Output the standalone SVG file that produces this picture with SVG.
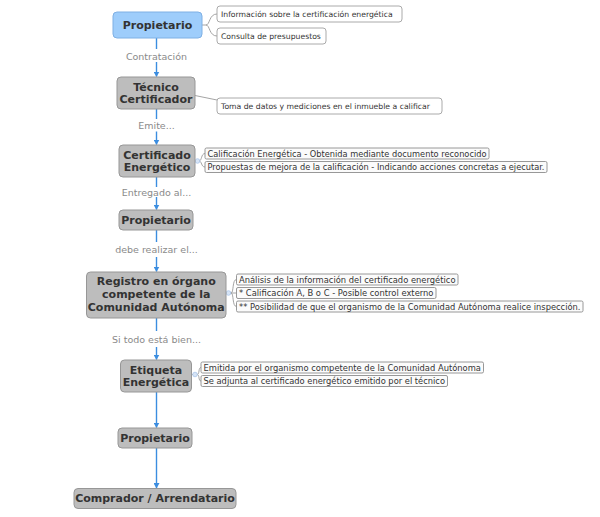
<svg xmlns="http://www.w3.org/2000/svg" width="600" height="517" viewBox="0 0 600 517">
<style>
.node rect{fill:#bdbdbd;stroke:#979797;stroke-width:1}
.node text{font-family:"DejaVu Sans",sans-serif;font-weight:bold;font-size:11px;fill:#333;text-anchor:middle;dominant-baseline:central}
#n-prop1 rect{fill:#9ecdfb;stroke:#7fb0e4}
.lbl{font-family:"DejaVu Sans",sans-serif;font-size:9.5px;fill:#8a8a8a;text-anchor:middle;dominant-baseline:central}
.flow{stroke:#3b8de0;stroke-width:1.4;fill:none}
.br{stroke:#9a9a9a;stroke-width:0.9;fill:none}
.dot{fill:#d6e4f6;stroke:#a9c5ea;stroke-width:0.8}
.co rect{fill:#fff;stroke:#a0a0a0;stroke-width:0.9}
.co text{font-family:"DejaVu Sans",sans-serif;font-size:7.7px;fill:#333;dominant-baseline:central}
.ci rect{fill:#fbfbfb;stroke:#8c8c8c;stroke-width:0.9}
.ci text{font-family:"DejaVu Sans",sans-serif;font-size:8.3px;fill:#333;dominant-baseline:central}
</style>
<defs>
<marker id="ah" markerWidth="6" markerHeight="6" refX="5" refY="3" orient="auto" markerUnits="userSpaceOnUse">
<path d="M0,0 L5.5,3 L0,6 Z" fill="#3b8de0"/>
</marker>
</defs>

<g id="connectors">
<path class="flow" d="M156.5,38 V49"/>
<path class="flow" d="M156.5,62 V76.5" marker-end="url(#ah)"/>
<path class="flow" d="M156.5,109 V119"/>
<path class="flow" d="M156.5,131.5 V144.5" marker-end="url(#ah)"/>
<path class="flow" d="M156.5,177 V187"/>
<path class="flow" d="M156.5,197 V209.5" marker-end="url(#ah)"/>
<path class="flow" d="M156.5,230 V242"/>
<path class="flow" d="M156.5,257 V271.5" marker-end="url(#ah)"/>
<path class="flow" d="M156.5,318 V331"/>
<path class="flow" d="M156.5,347 V359.5" marker-end="url(#ah)"/>
<path class="flow" d="M156.5,392 V427.5" marker-end="url(#ah)"/>
<path class="flow" d="M156.5,448 V488" marker-end="url(#ah)"/>
<text class="lbl" x="156.5" y="56">Contratación</text>
<text class="lbl" x="156.5" y="125.5">Emite...</text>
<text class="lbl" x="156.5" y="192.5">Entregado al...</text>
<text class="lbl" x="156.5" y="249.5">debe realizar el...</text>
<text class="lbl" x="156.5" y="339.5">Si todo está bien...</text>

<path class="br" d="M202,25 H206 C210,25 209,14 217,14 M206,25 C210,25 209,36 217,36"/>
<path class="br" d="M195,95.5 L217,100"/>
<path class="br" d="M195,161 H199 C202,161 201,153.5 205,153.5 M199,161 C202,161 201,167 205,167"/>
<circle class="dot" cx="197.5" cy="161" r="2.3"/>
<path class="br" d="M226,293 H231 C234,293 232,279.5 236.5,279.5 M231,293 H236.5 M231,293 C234,293 232,306.5 236.5,306.5"/>
<circle class="dot" cx="228.5" cy="293" r="2.3"/>
<path class="br" d="M191.5,374.5 H197 C200,374.5 198,367.5 201,367.5 M197,374.5 C200,374.5 198,381 201,381"/>
<circle class="dot" cx="195" cy="374.5" r="2.3"/>
</g>

<g id="n-prop1" class="node"><rect x="113" y="12" width="89" height="26" rx="4"/><text x="157.5" y="25">Propietario</text></g>
<g id="n-tecnico" class="node"><rect x="117" y="77" width="78" height="32" rx="4"/><text x="156" y="87">Técnico</text><text x="156" y="99.5">Certificador</text></g>
<g id="n-cert" class="node"><rect x="119" y="145" width="76" height="32" rx="4"/><text x="157" y="155">Certificado</text><text x="157" y="167.5">Energético</text></g>
<g id="n-prop2" class="node"><rect x="119" y="210" width="74" height="20" rx="4"/><text x="156" y="220.5">Propietario</text></g>
<g id="n-registro" class="node"><rect x="86.5" y="272" width="139.5" height="46" rx="4"/><text x="156.25" y="281.5">Registro en órgano</text><text x="156.25" y="294.5">competente de la</text><text x="156.25" y="307.5">Comunidad Autónoma</text></g>
<g id="n-etiqueta" class="node"><rect x="120.5" y="360" width="71" height="32" rx="4"/><text x="156" y="370">Etiqueta</text><text x="156" y="382.5">Energética</text></g>
<g id="n-prop3" class="node"><rect x="118" y="428" width="74" height="20" rx="4"/><text x="155" y="438">Propietario</text></g>
<g id="n-comprador" class="node"><rect x="74" y="488.5" width="162" height="20" rx="4"/><text x="155" y="498.5">Comprador / Arrendatario</text></g>

<g id="c-info" class="co"><rect x="217" y="6" width="185" height="16" rx="3"/><text x="221" y="14">Información sobre la certificación energética</text></g>
<g id="c-consulta" class="co"><rect x="217" y="28" width="109" height="16" rx="3"/><text x="221" y="36">Consulta de presupuestos</text></g>
<g id="c-toma" class="co"><rect x="217" y="98" width="225" height="16" rx="3"/><text x="221" y="106">Toma de datos y mediciones en el inmueble a calificar</text></g>

<g id="c-calif" class="ci"><rect x="205" y="148" width="284" height="11" rx="1.5"/><text x="207.5" y="153.5" textLength="279" lengthAdjust="spacingAndGlyphs">Calificación Energética - Obtenida mediante documento reconocido</text></g>
<g id="c-propuestas" class="ci"><rect x="205" y="161.5" width="342" height="11" rx="1.5"/><text x="207.5" y="167" textLength="337" lengthAdjust="spacingAndGlyphs">Propuestas de mejora de la calificación - Indicando acciones concretas a ejecutar.</text></g>
<g id="c-analisis" class="ci"><rect x="236.5" y="274" width="221.5" height="11" rx="1.5"/><text x="239" y="279.5" textLength="216.5" lengthAdjust="spacingAndGlyphs">Análisis de la información del certificado energético</text></g>
<g id="c-califabc" class="ci"><rect x="236.5" y="287.5" width="199.5" height="11" rx="1.5"/><text x="239" y="293" textLength="194.5" lengthAdjust="spacingAndGlyphs">* Calificación A, B o C - Posible control externo</text></g>
<g id="c-posib" class="ci"><rect x="236.5" y="301" width="346.5" height="11" rx="1.5"/><text x="239" y="306.5" textLength="341.5" lengthAdjust="spacingAndGlyphs">** Posibilidad de que el organismo de la Comunidad Autónoma realice inspección.</text></g>
<g id="c-emitida" class="ci"><rect x="201" y="362" width="282.5" height="11" rx="1.5"/><text x="203.5" y="367.5" textLength="277.5" lengthAdjust="spacingAndGlyphs">Emitida por el organismo competente de la Comunidad Autónoma</text></g>
<g id="c-adjunta" class="ci"><rect x="201" y="375.5" width="246.5" height="11" rx="1.5"/><text x="203.5" y="381" textLength="241.5" lengthAdjust="spacingAndGlyphs">Se adjunta al certificado energético emitido por el técnico</text></g>
</svg>
